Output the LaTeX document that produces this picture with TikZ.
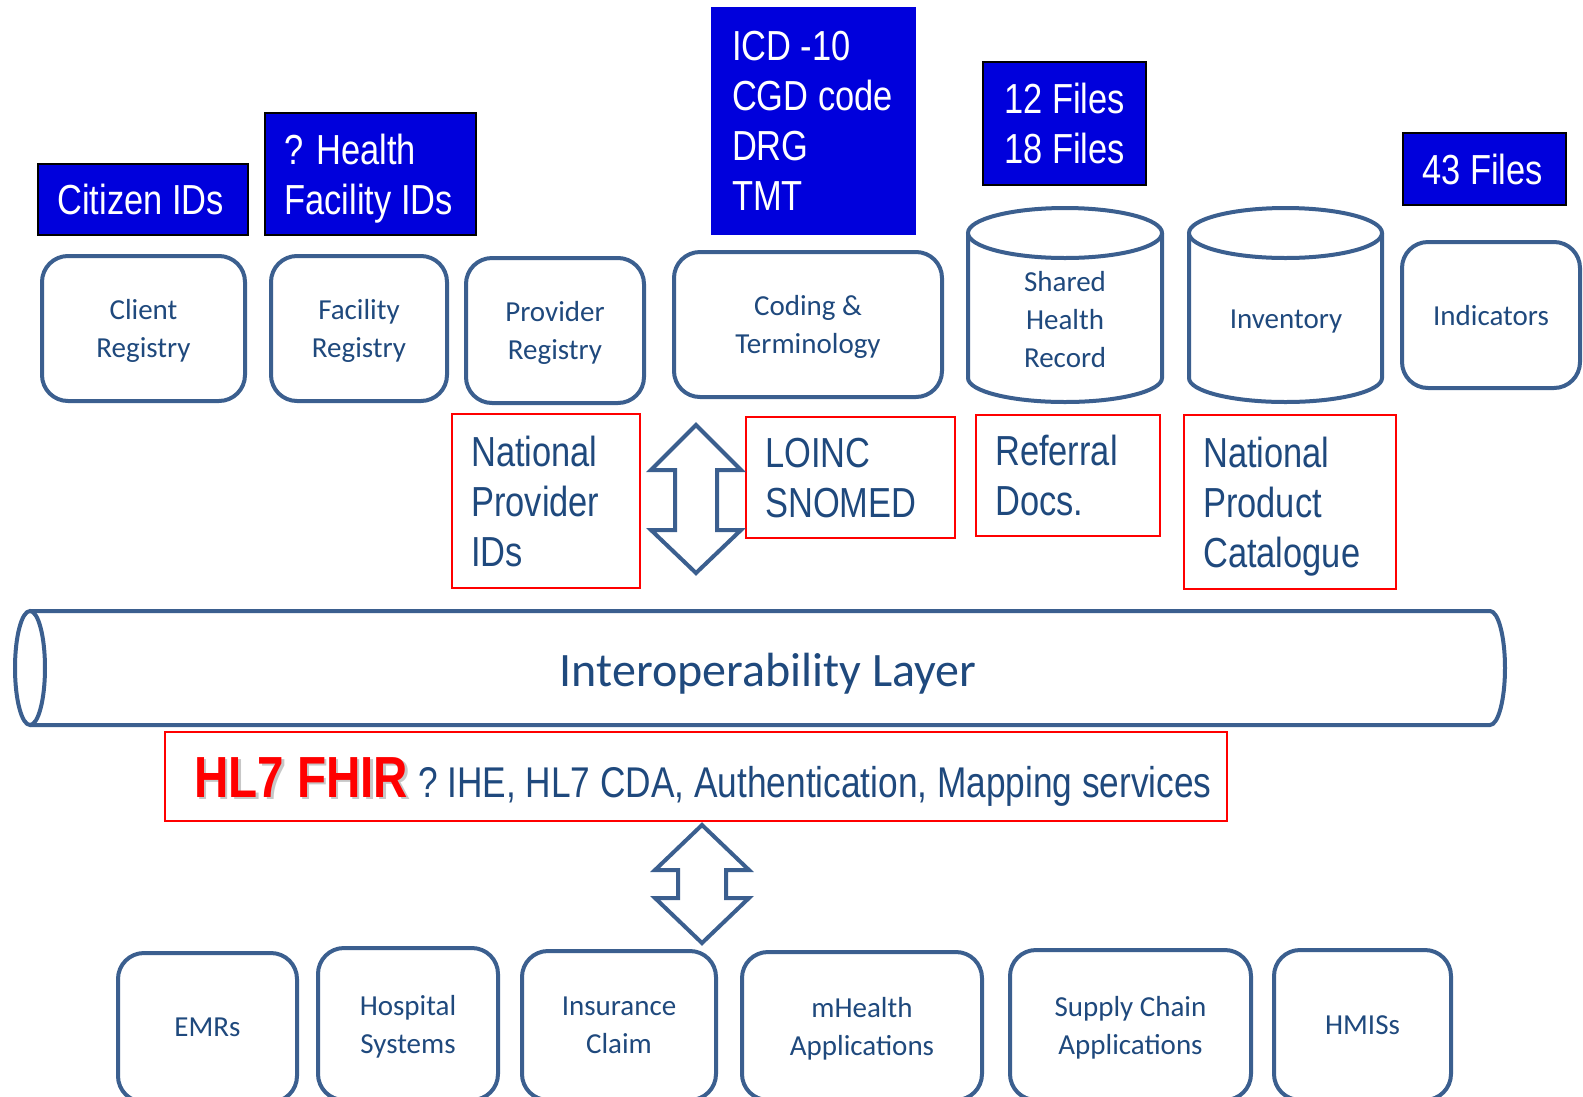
\documentclass[tikz,border=0pt]{standalone}
\usepackage{fontspec}
\setmainfont{Carlito}
\newfontfamily\narrow[FakeStretch=0.82]{Liberation Sans}
\definecolor{boxblue}{HTML}{3B5F8F}
\definecolor{txtblue}{HTML}{1F497D}
\definecolor{fillblue}{HTML}{0000DC}
\definecolor{hlred}{HTML}{FF0000}
\begin{document}
\begin{tikzpicture}[x=1pt,y=-1pt,
  rbox/.style={draw=boxblue, line width=4pt, rounded corners=26pt, fill=white,
    text=txtblue, align=center, font=\fontsize{29}{38}\selectfont, inner sep=0pt, text depth=0pt},
  bluebox/.style={fill=fillblue, inner sep=0pt},
  btext/.style={text=white, align=left, inner sep=0pt, anchor=west, text depth=0pt,
    font=\narrow\fontsize{42}{50}\selectfont},
  redbox/.style={draw=hlred, line width=2pt, inner sep=0pt},
  rtext/.style={text=txtblue, align=left, inner sep=0pt, anchor=west, text depth=0pt,
    font=\narrow\fontsize{42}{50}\selectfont},
  blockarrow/.style={draw=boxblue, line width=4pt, fill=white, line join=miter},
  cyl/.style={draw=boxblue, line width=4pt, fill=white},
  cyltext/.style={text=txtblue, align=center, text depth=0pt, font=\fontsize{29}{38}\selectfont}]
\useasboundingbox (0,0) rectangle (1583,1096);
\clip (0,0) rectangle (1583,1096);

% blue labels
\node[bluebox, draw=black, line width=1.5pt, minimum width=210pt, minimum height=71pt] (cid) at (143,199.5) {};
\node[btext] (cidt) at ([xshift=20pt]cid.west) {Citizen IDs};
\node[bluebox, draw=black, line width=1.5pt, minimum width=211pt, minimum height=122pt] (hfid) at (370.5,174) {};
\node[btext] (hfidt) at ([xshift=20pt]hfid.west) {? Health\\Facility IDs};
\node[bluebox, minimum width=205pt, minimum height=228pt] (icd) at (813.5,121) {};
\node[btext] (icdt) at ([xshift=21pt]icd.west) {ICD -10\\CGD code\\DRG\\TMT};
\node[bluebox, draw=black, line width=1.5pt, minimum width=163pt, minimum height=123pt] (files12) at (1064.5,123.5) {};
\node[btext] (files12t) at ([xshift=22pt]files12.west) {12 Files\\18 Files};
\node[bluebox, draw=black, line width=1.5pt, minimum width=163pt, minimum height=72pt] (files43) at (1484.5,169) {};
\node[btext] (files43t) at ([xshift=20pt]files43.west) {43 Files};

% top row registries
\node[rbox, minimum width=203pt, minimum height=145pt] (client) at (143.5,328.5) {Client\\Registry};
\node[rbox, minimum width=176pt, minimum height=145pt] (facility) at (359,328.5) {Facility\\Registry};
\node[rbox, minimum width=178pt, minimum height=145pt] (provider) at (555,330.5) {Provider\\Registry};
\node[rbox, minimum width=268pt, minimum height=145pt] (coding) at (808,324.5) {Coding \&\\Terminology};
\node[rbox, minimum width=178pt, minimum height=146pt] (indicators) at (1491,315) {Indicators};

% cylinders
\draw[cyl] (968,233) -- (968,378) arc[start angle=180, end angle=0, x radius=97, y radius=24] -- (1162,233);
\draw[cyl] (1065,233) ellipse [x radius=97, y radius=25];
\node[cyltext] (shr) at (1065,319) {Shared\\Health\\Record};
\draw[cyl] (1189,233) -- (1189,378) arc[start angle=180, end angle=0, x radius=96.5, y radius=24] -- (1382,233);
\draw[cyl] (1285.5,233) ellipse [x radius=96.5, y radius=25];
\node[cyltext] (inv) at (1286,319) {Inventory};

% red boxes
\node[redbox, minimum width=188pt, minimum height=174pt] (npi) at (546,501) {};
\node[rtext] (npit) at ([xshift=20pt]npi.west) {National\\Provider\\IDs};
\node[redbox, minimum width=209pt, minimum height=121pt] (loinc) at (850.5,477.5) {};
\node[rtext] (loinct) at ([xshift=20pt]loinc.west) {LOINC\\SNOMED};
\node[redbox, minimum width=184pt, minimum height=121pt] (ref) at (1068,475.5) {};
\node[rtext] (reft) at ([xshift=20pt]ref.west) {Referral\\Docs.};
\node[redbox, minimum width=212pt, minimum height=174pt] (npc) at (1290,502) {};
\node[rtext] (npct) at ([xshift=20pt]npc.west) {National\\Product\\Catalogue};

% upper double arrow
\draw[blockarrow] (696,425) -- (741,470) -- (717,470) -- (717,530) -- (741,530) -- (696,573)
  -- (651,530) -- (675,530) -- (675,470) -- (651,470) -- cycle;

% interoperability pipe
\draw[cyl] (30,611) -- (1490,611) arc[start angle=-90, end angle=90, x radius=15, y radius=57] -- (30,725);
\draw[cyl] (30,668) ellipse [x radius=15, y radius=57];
\node[text=txtblue, text depth=0pt, font=\fontsize{48}{50}\selectfont] (pipe) at (768,670) {Interoperability Layer};

% standards box
\node[redbox, minimum width=1062pt, minimum height=89pt] (fhir) at (696,776.5) {};
\node[rtext, font=\narrow\fontsize{43}{50}\selectfont] (fhirt) at ([xshift=30pt,yshift=-1pt]fhir.west)
  {{\fontsize{58}{60}\selectfont\bfseries\makebox[0pt][l]{\raisebox{-2.5pt}{\hspace{2.5pt}\color{black!22}HL7 FHIR}}\color{hlred}HL7 FHIR} ? IHE, HL7 CDA, Authentication, Mapping services};

% lower double arrow
\draw[blockarrow] (702,825) -- (749,870) -- (726,870) -- (726,898) -- (749,898) -- (702,943)
  -- (655,898) -- (678,898) -- (678,870) -- (655,870) -- cycle;

% bottom row applications
\node[rbox, minimum width=179pt, minimum height=149pt] (emr) at (207.5,1027.5) {EMRs};
\node[rbox, minimum width=180pt, minimum height=152pt] (hosp) at (408,1024) {Hospital\\Systems};
\node[rbox, minimum width=194pt, minimum height=149pt] (ins) at (619,1025.5) {Insurance\\Claim};
\node[rbox, minimum width=240pt, minimum height=148pt] (mh) at (862,1026) {mHealth\\Applications};
\node[rbox, minimum width=241pt, minimum height=150pt] (sc) at (1130.5,1025) {Supply Chain\\Applications};
\node[rbox, minimum width=177pt, minimum height=150pt] (hmis) at (1362.5,1025) {HMISs};
\end{tikzpicture}
\end{document}
